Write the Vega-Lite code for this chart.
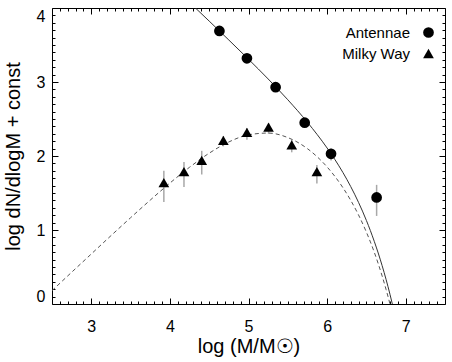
{
  "$schema": "https://vega.github.io/schema/vega-lite/v6.json",
  "autosize": {"type": "none"},
  "padding": {"left": 52, "top": 8, "right": 7, "bottom": 58},
  "width": 393,
  "height": 296,
  "background": "white",
  "config": {
    "view": {"stroke": "black", "strokeWidth": 1},
    "font": "Liberation Sans"
  },
  "datasets": {
    "pts": [
      {"series": "Antennae", "x": 4.63, "y": 3.69, "lo": 3.69, "hi": 3.69},
      {"series": "Antennae", "x": 4.98, "y": 3.32, "lo": 3.32, "hi": 3.32},
      {"series": "Antennae", "x": 5.345, "y": 2.93, "lo": 2.93, "hi": 2.93},
      {"series": "Antennae", "x": 5.715, "y": 2.45, "lo": 2.40, "hi": 2.50},
      {"series": "Antennae", "x": 6.05, "y": 2.03, "lo": 1.94, "hi": 2.10},
      {"series": "Antennae", "x": 6.63, "y": 1.44, "lo": 1.19, "hi": 1.61},
      {"series": "Milky Way", "x": 3.923, "y": 1.64, "lo": 1.38, "hi": 1.80},
      {"series": "Milky Way", "x": 4.179, "y": 1.79, "lo": 1.58, "hi": 1.92},
      {"series": "Milky Way", "x": 4.405, "y": 1.94, "lo": 1.75, "hi": 2.07},
      {"series": "Milky Way", "x": 4.68, "y": 2.21, "lo": 2.13, "hi": 2.27},
      {"series": "Milky Way", "x": 4.98, "y": 2.32, "lo": 2.22, "hi": 2.38},
      {"series": "Milky Way", "x": 5.255, "y": 2.39, "lo": 2.30, "hi": 2.44},
      {"series": "Milky Way", "x": 5.55, "y": 2.15, "lo": 2.05, "hi": 2.22},
      {"series": "Milky Way", "x": 5.87, "y": 1.79, "lo": 1.63, "hi": 1.88}
    ],
    "dashed": [
      {"x": 2.5, "y": 0.18}, {"x": 2.75, "y": 0.429}, {"x": 3.0, "y": 0.676},
      {"x": 3.25, "y": 0.923}, {"x": 3.5, "y": 1.166}, {"x": 3.75, "y": 1.404},
      {"x": 4.0, "y": 1.634}, {"x": 4.25, "y": 1.848}, {"x": 4.5, "y": 2.038},
      {"x": 4.75, "y": 2.19}, {"x": 5.0, "y": 2.286}, {"x": 5.25, "y": 2.31},
      {"x": 5.5, "y": 2.249}, {"x": 5.75, "y": 2.099}, {"x": 6.0, "y": 1.852},
      {"x": 6.1, "y": 1.723}, {"x": 6.2, "y": 1.574}, {"x": 6.3, "y": 1.402},
      {"x": 6.4, "y": 1.203}, {"x": 6.5, "y": 0.971}, {"x": 6.6, "y": 0.7},
      {"x": 6.7, "y": 0.379}, {"x": 6.75, "y": 0.197}, {"x": 6.8, "y": 0.0}
    ],
    "solid": [
      {"x": 4.325, "y": 4.0}, {"x": 4.5, "y": 3.823}, {"x": 4.75, "y": 3.567},
      {"x": 5.0, "y": 3.308}, {"x": 5.25, "y": 3.041}, {"x": 5.5, "y": 2.76},
      {"x": 5.75, "y": 2.455}, {"x": 6.0, "y": 2.108}, {"x": 6.1, "y": 1.951},
      {"x": 6.2, "y": 1.779}, {"x": 6.3, "y": 1.588}, {"x": 6.4, "y": 1.373},
      {"x": 6.5, "y": 1.129}, {"x": 6.6, "y": 0.847}, {"x": 6.7, "y": 0.519},
      {"x": 6.75, "y": 0.333}, {"x": 6.8, "y": 0.131}, {"x": 6.83, "y": 0.0}
    ]
  },
  "layer": [
    {
      "data": {"name": "pts"},
      "transform": [{"filter": "datum.series === 'Milky Way'"}],
      "mark": {"type": "rule", "color": "#a8a8a8", "strokeWidth": 1.5},
      "encoding": {
        "x": {"field": "x", "type": "quantitative",
          "scale": {"domain": [2.5, 7.5], "nice": false, "zero": false},
          "axis": {"orient": "bottom", "values": [3, 4, 5, 6, 7], "ticks": false, "tickSize": 0, "domain": false, "grid": false,
            "labelFontSize": 16, "labelColor": "black", "labelPadding": 14, "labelFlush": false,
            "title": "log (M/M☉)", "titleFontSize": 20, "titleFontWeight": "normal", "titleColor": "black", "titlePadding": 2}},
        "y": {"field": "lo", "type": "quantitative",
          "scale": {"domain": [0, 4], "nice": false, "zero": false},
          "axis": {"orient": "left", "values": [0, 1, 2, 3, 4], "ticks": false, "tickSize": 0, "domain": false, "grid": false,
            "labelFontSize": 16, "labelColor": "black", "labelPadding": 7, "labelFlush": true,
            "title": "log dN/dlogM + const", "titleFontSize": 20, "titleFontWeight": "normal", "titleColor": "black", "titlePadding": 13}},
        "y2": {"field": "hi"}
      }
    },
    {
      "data": {"name": "pts"},
      "transform": [{"filter": "datum.series === 'Antennae'"}],
      "mark": {"type": "rule", "color": "#a8a8a8", "strokeWidth": 1.5},
      "encoding": {
        "x": {"field": "x", "type": "quantitative",
          "scale": {"domain": [2.5, 7.5], "nice": false, "zero": false},
          "axis": {"orient": "bottom", "values": [3, 4, 5, 6, 7], "labels": false, "domain": false, "grid": false,
            "ticks": true, "tickSize": -6, "tickColor": "black", "tickWidth": 1, "title": null}},
        "y": {"field": "lo", "type": "quantitative",
          "scale": {"domain": [0, 4], "nice": false, "zero": false},
          "axis": {"orient": "left", "values": [0, 1, 2, 3, 4], "labels": false, "domain": false, "grid": false,
            "ticks": true, "tickSize": -6, "tickColor": "black", "tickWidth": 1, "title": null}},
        "y2": {"field": "hi"}
      }
    },
    {
      "data": {"name": "dashed"},
      "mark": {"type": "line", "color": "#555555", "strokeWidth": 1, "strokeDash": [4, 3], "interpolate": "monotone", "clip": true},
      "encoding": {
        "x": {"field": "x", "type": "quantitative",
          "scale": {"domain": [2.5, 7.5], "nice": false, "zero": false},
          "axis": {"orient": "bottom", "values": [2.6,2.7,2.8,2.9,3.1,3.2,3.3,3.4,3.5,3.6,3.7,3.8,3.9,4.1,4.2,4.3,4.4,4.5,4.6,4.7,4.8,4.9,5.1,5.2,5.3,5.4,5.5,5.6,5.7,5.8,5.9,6.1,6.2,6.3,6.4,6.5,6.6,6.7,6.8,6.9,7.1,7.2,7.3,7.4],
            "labels": false, "domain": false, "grid": false,
            "ticks": true, "tickSize": -3, "tickColor": "black", "tickWidth": 1, "title": null}},
        "y": {"field": "y", "type": "quantitative",
          "scale": {"domain": [0, 4], "nice": false, "zero": false},
          "axis": {"orient": "left", "values": [0.1,0.2,0.3,0.4,0.5,0.6,0.7,0.8,0.9,1.1,1.2,1.3,1.4,1.5,1.6,1.7,1.8,1.9,2.1,2.2,2.3,2.4,2.5,2.6,2.7,2.8,2.9,3.1,3.2,3.3,3.4,3.5,3.6,3.7,3.8,3.9],
            "labels": false, "domain": false, "grid": false,
            "ticks": true, "tickSize": -3, "tickColor": "black", "tickWidth": 1, "title": null}}
      }
    },
    {
      "data": {"name": "solid"},
      "mark": {"type": "line", "color": "#333333", "strokeWidth": 1, "interpolate": "monotone", "clip": true},
      "encoding": {
        "x": {"field": "x", "type": "quantitative",
          "scale": {"domain": [2.5, 7.5], "nice": false, "zero": false},
          "axis": {"orient": "top", "values": [3, 4, 5, 6, 7], "labels": false, "domain": false, "grid": false,
            "ticks": true, "tickSize": -6, "tickColor": "black", "tickWidth": 1, "title": null}},
        "y": {"field": "y", "type": "quantitative",
          "scale": {"domain": [0, 4], "nice": false, "zero": false},
          "axis": {"orient": "right", "values": [0, 1, 2, 3, 4], "labels": false, "domain": false, "grid": false,
            "ticks": true, "tickSize": -6, "tickColor": "black", "tickWidth": 1, "title": null}}
      }
    },
    {
      "data": {"name": "pts"},
      "mark": {"type": "point", "filled": true, "color": "black", "opacity": 1, "size": 115},
      "encoding": {
        "x": {"field": "x", "type": "quantitative",
          "scale": {"domain": [2.5, 7.5], "nice": false, "zero": false},
          "axis": {"orient": "top", "values": [2.6,2.7,2.8,2.9,3.1,3.2,3.3,3.4,3.5,3.6,3.7,3.8,3.9,4.1,4.2,4.3,4.4,4.5,4.6,4.7,4.8,4.9,5.1,5.2,5.3,5.4,5.5,5.6,5.7,5.8,5.9,6.1,6.2,6.3,6.4,6.5,6.6,6.7,6.8,6.9,7.1,7.2,7.3,7.4],
            "labels": false, "domain": false, "grid": false,
            "ticks": true, "tickSize": -3, "tickColor": "black", "tickWidth": 1, "title": null}},
        "y": {"field": "y", "type": "quantitative",
          "scale": {"domain": [0, 4], "nice": false, "zero": false},
          "axis": {"orient": "right", "values": [0.1,0.2,0.3,0.4,0.5,0.6,0.7,0.8,0.9,1.1,1.2,1.3,1.4,1.5,1.6,1.7,1.8,1.9,2.1,2.2,2.3,2.4,2.5,2.6,2.7,2.8,2.9,3.1,3.2,3.3,3.4,3.5,3.6,3.7,3.8,3.9],
            "labels": false, "domain": false, "grid": false,
            "ticks": true, "tickSize": -3, "tickColor": "black", "tickWidth": 1, "title": null}},
        "shape": {"field": "series", "type": "nominal",
          "scale": {"domain": ["Antennae", "Milky Way"], "range": ["circle", "triangle-up"]},
          "legend": {"title": null, "orient": "none", "legendX": 369, "legendY": 17, "padding": 0,
            "labelAlign": "right", "labelOffset": -26, "labelFontSize": 15, "labelColor": "black",
            "symbolSize": 115, "symbolFillColor": "black", "symbolStrokeColor": "black", "symbolStrokeWidth": 0,
            "symbolOpacity": 1, "rowPadding": 5}}
      }
    }
  ],
  "resolve": {"axis": {"x": "independent", "y": "independent"}}
}
